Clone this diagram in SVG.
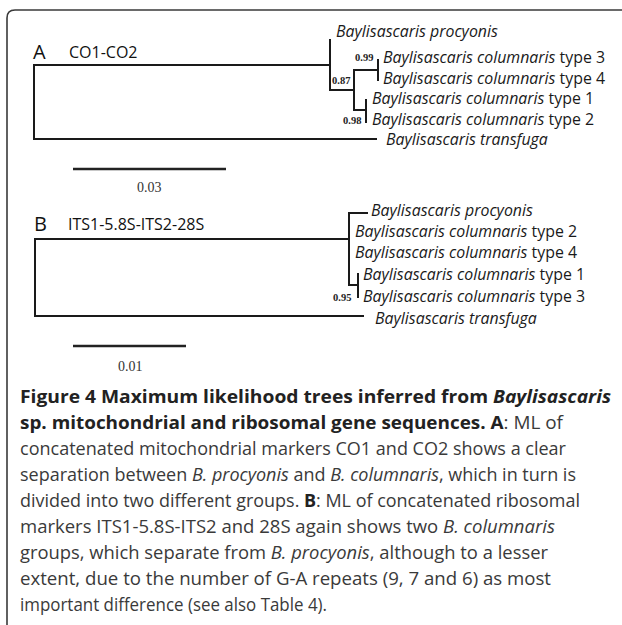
<svg xmlns="http://www.w3.org/2000/svg" width="622" height="625" viewBox="0 0 622 625">
<style>
.frame{fill:none;stroke:#3a3a3a;stroke-width:1.6}
.br{fill:none;stroke:#1a1a1a;stroke-width:2;stroke-linecap:square}
.scale{fill:none;stroke:#222;stroke-width:2.5}
.lab{font-family:"Open Sans","Noto Sans",sans-serif;font-size:15.9px;fill:#1a1a1a}
.sp{font-style:italic}
.bs{font-family:"Liberation Serif",serif;font-weight:bold;font-size:10.5px;fill:#222}
.sc{font-family:"Liberation Serif",serif;font-size:14px;fill:#333}
.pan{font-family:"Open Sans","Noto Sans",sans-serif;font-size:20px;fill:#111}
.mk{font-family:"Open Sans","Noto Sans",sans-serif;font-size:16px;fill:#111}
.cap{font-family:"Open Sans","Noto Sans",sans-serif;font-size:18px;fill:#3a3a3a}
.b{font-weight:bold;fill:#222}
.i{font-style:italic}
</style>
<rect width="622" height="625" fill="#fff"/>
<path class="frame" d="M7,625 V18 Q7,10 15,10 H622"/>

<g id="connectors">
  <path class="br" d="M34,65 V139 M34,65 H330 M330,40 V90 M330,90 H354 M354,70 V110 M354,70 H378 M378,60 V80 M354,110 H366 M366,100 V122 M34,139 H376"/>
  <path class="br" d="M35,239 V316 M35,239 H349 M349,213 V285 M349,213 H367 M349,285 H358 M358,274 V297 M35,316 H363"/>
</g>

<g id="panelA">
  <text class="pan" x="33" y="59">A</text>
  <text class="mk" x="69" y="58">CO1-CO2</text>
</g>
<g id="A-procyonis"><text class="lab" x="336" y="37"><tspan class="sp">Baylisascaris procyonis</tspan></text></g>
<g id="A-col3"><text class="lab" x="383" y="63"><tspan class="sp">Baylisascaris columnaris</tspan> type 3</text></g>
<g id="A-col4"><text class="lab" x="383" y="84"><tspan class="sp">Baylisascaris columnaris</tspan> type 4</text></g>
<g id="A-col1"><text class="lab" x="372" y="104"><tspan class="sp">Baylisascaris columnaris</tspan> type 1</text></g>
<g id="A-col2"><text class="lab" x="372" y="125"><tspan class="sp">Baylisascaris columnaris</tspan> type 2</text></g>
<g id="A-transfuga"><text class="lab" x="386" y="145"><tspan class="sp">Baylisascaris transfuga</tspan></text></g>
<g id="A-support">
  <text class="bs" x="355" y="61">0.99</text>
  <text class="bs" x="332" y="84">0.87</text>
  <text class="bs" x="343" y="124">0.98</text>
</g>
<g id="A-scale">
  <path class="scale" d="M73,169 H226"/>
  <text class="sc" x="137" y="192">0.03</text>
</g>

<g id="panelB">
  <text class="pan" x="34" y="231">B</text>
  <text class="mk" x="68" y="230">ITS1-5.8S-ITS2-28S</text>
</g>
<g id="B-procyonis"><text class="lab" x="371" y="216"><tspan class="sp">Baylisascaris procyonis</tspan></text></g>
<g id="B-col2"><text class="lab" x="355" y="237"><tspan class="sp">Baylisascaris columnaris</tspan> type 2</text></g>
<g id="B-col4"><text class="lab" x="355" y="258"><tspan class="sp">Baylisascaris columnaris</tspan> type 4</text></g>
<g id="B-col1"><text class="lab" x="363" y="280"><tspan class="sp">Baylisascaris columnaris</tspan> type 1</text></g>
<g id="B-col3"><text class="lab" x="363" y="302"><tspan class="sp">Baylisascaris columnaris</tspan> type 3</text></g>
<g id="B-transfuga"><text class="lab" x="375" y="324"><tspan class="sp">Baylisascaris transfuga</tspan></text></g>
<g id="B-support">
  <text class="bs" x="333" y="301">0.95</text>
</g>
<g id="B-scale">
  <path class="scale" d="M73,346 H186"/>
  <text class="sc" x="118" y="371">0.01</text>
</g>

<g id="caption">
  <text class="cap" x="20" y="403" textLength="591" lengthAdjust="spacingAndGlyphs"><tspan class="b">Figure 4 Maximum likelihood trees inferred from </tspan><tspan class="b i">Baylisascaris</tspan></text>
  <text class="cap" x="20" y="429" textLength="543" lengthAdjust="spacingAndGlyphs"><tspan class="b">sp. mitochondrial and ribosomal gene sequences. A</tspan>: ML of</text>
  <text class="cap" x="20" y="455" textLength="546" lengthAdjust="spacingAndGlyphs">concatenated mitochondrial markers CO1 and CO2 shows a clear</text>
  <text class="cap" x="20" y="481" textLength="556" lengthAdjust="spacingAndGlyphs">separation between <tspan class="i">B. procyonis</tspan> and <tspan class="i">B. columnaris</tspan>, which in turn is</text>
  <text class="cap" x="20" y="507" textLength="560" lengthAdjust="spacingAndGlyphs">divided into two different groups. <tspan class="b">B</tspan>: ML of concatenated ribosomal</text>
  <text class="cap" x="20" y="533" textLength="535" lengthAdjust="spacingAndGlyphs">markers ITS1-5.8S-ITS2 and 28S again shows two <tspan class="i">B. columnaris</tspan></text>
  <text class="cap" x="20" y="559" textLength="528" lengthAdjust="spacingAndGlyphs">groups, which separate from <tspan class="i">B. procyonis</tspan>, although to a lesser</text>
  <text class="cap" x="20" y="585" textLength="531" lengthAdjust="spacingAndGlyphs">extent, due to the number of G-A repeats (9, 7 and 6) as most</text>
  <text class="cap" x="20" y="611" textLength="307" lengthAdjust="spacingAndGlyphs">important difference (see also Table 4).</text>
</g>
</svg>
